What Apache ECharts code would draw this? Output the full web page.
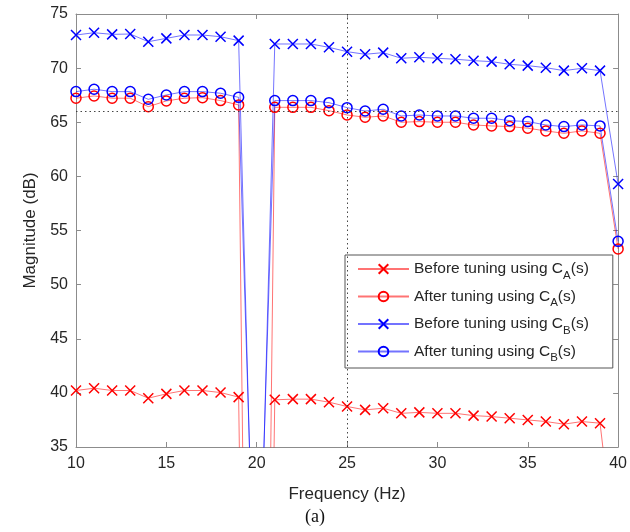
<!DOCTYPE html>
<html>
<head>
<meta charset="utf-8">
<script src="https://cdn.jsdelivr.net/npm/echarts@6/dist/echarts.min.js"></script>
<style>
html,body{margin:0;padding:0;background:#fff;}
#c{width:630px;height:532px;}
</style>
</head>
<body>
<div id="c"></div>
<script>
var frequency = [10,11,12,13,14,15,16,17,18,19,20,21,22,23,24,25,26,27,28,29,30,31,32,33,34,35,36,37,38,39,40];
var beforeA = [40.22,40.43,40.22,40.22,39.51,39.91,40.22,40.22,40.03,39.61,-75,39.36,39.42,39.42,39.14,38.74,38.43,38.58,38.11,38.2,38.11,38.11,37.9,37.81,37.66,37.5,37.35,37.11,37.35,37.2,23];
var afterA = [67.22,67.43,67.22,67.22,66.44,66.97,67.22,67.27,67.0,66.6,-75,66.38,66.38,66.38,66.07,65.67,65.46,65.58,65.0,65.06,65.0,65.0,64.75,64.66,64.6,64.45,64.2,63.98,64.2,63.98,53.3];
var beforeB = [73.06,73.27,73.12,73.15,72.44,72.75,73.06,73.06,72.9,72.54,10,72.23,72.23,72.23,71.92,71.52,71.28,71.43,70.91,71.0,70.91,70.82,70.69,70.6,70.35,70.23,70.04,69.77,69.98,69.77,59.3];
var afterB = [67.83,68.05,67.83,67.83,67.12,67.52,67.83,67.83,67.68,67.3,13.5,67.0,67.0,67.0,66.81,66.35,66.04,66.2,65.58,65.67,65.58,65.58,65.37,65.37,65.15,65.06,64.75,64.6,64.75,64.66,54.0];
var refLevel = 66;
var refFreq = 25;
var xTicks = [10,15,20,25,30,35,40];
var yTicks = [35,40,45,50,55,60,65,70,75];

function pairs(vals){ return frequency.map(function(f,i){ return [f, vals[i]]; }); }

var crossPath = 'path://M0,0L10,10M10,0L0,10';
var RED = '#ff0000', BLUE = '#0000ff';
var axisColor = '#8c8c8c';
var textColor = '#262626';
var fontFam = '"Liberation Sans", Arial, sans-serif';

function mkSeries(name, vals, color, symbol){
  return {
    name: name, type: 'line', data: pairs(vals),
    symbol: symbol, symbolSize: 10, showAllSymbol: true,
    clip: true,
    lineStyle: {color: color, width: 1, opacity: 0.55},
    itemStyle: {color: 'rgba(0,0,0,0)', borderColor: color, borderWidth: 1.5},
    emphasis: {disabled: true},
    animation: false,
    z: 3
  };
}

var series = [
  mkSeries('Before tuning using C{sub|A}(s)', beforeA, RED, crossPath),
  mkSeries('After tuning using C{sub|A}(s)', afterA, RED, 'circle'),
  mkSeries('Before tuning using C{sub|B}(s)', beforeB, BLUE, crossPath),
  mkSeries('After tuning using C{sub|B}(s)', afterB, BLUE, 'circle')
];
series[0].markLine = {
  silent: true, symbol: ['none','none'], animation: false,
  label: {show: false},
  lineStyle: {color: '#333', type: [1.5, 3], width: 1, opacity: 0.9},
  data: [{yAxis: refLevel}, {xAxis: refFreq}]
};

var chart = echarts.init(document.getElementById('c'), null, {renderer: 'canvas'});
chart.setOption({
  animation: false,
  backgroundColor: '#fff',
  grid: {left: 76, right: 8, top: 14, bottom: 85, containLabel: false},
  xAxis: [{
    type: 'value', min: 10, max: 40, interval: 5,
    name: 'Frequency (Hz)', nameLocation: 'middle', nameGap: 39,
    nameTextStyle: {fontFamily: fontFam, fontSize: 17, color: textColor},
    axisLine: {show: true, lineStyle: {color: axisColor, width: 1}},
    axisTick: {show: true, inside: true, length: 5, lineStyle: {color: axisColor}},
    axisLabel: {fontFamily: fontFam, fontSize: 16, color: textColor, margin: 9},
    splitLine: {show: false}
  },{
    type: 'value', min: 10, max: 40, interval: 5, position: 'top',
    axisLine: {show: true, lineStyle: {color: axisColor, width: 1}},
    axisTick: {show: true, inside: true, length: 5, lineStyle: {color: axisColor}},
    axisLabel: {show: false}, splitLine: {show: false}
  }],
  yAxis: [{
    type: 'value', min: 35, max: 75, interval: 5,
    name: 'Magnitude (dB)', nameLocation: 'middle', nameGap: 31,
    nameTextStyle: {fontFamily: fontFam, fontSize: 17, color: textColor},
    axisLine: {show: true, lineStyle: {color: axisColor, width: 1}},
    axisTick: {show: true, inside: true, length: 5, lineStyle: {color: axisColor}},
    axisLabel: {fontFamily: fontFam, fontSize: 16, color: textColor, margin: 8},
    splitLine: {show: false}
  },{
    type: 'value', min: 35, max: 75, interval: 5, position: 'right',
    axisLine: {show: true, lineStyle: {color: axisColor, width: 1}},
    axisTick: {show: true, inside: true, length: 5, lineStyle: {color: axisColor}},
    axisLabel: {show: false}, splitLine: {show: false}
  }],
  legend: {
    show: true, orient: 'vertical', left: 345, top: 255,
    padding: [6, 24, 4, 12],
    itemWidth: 51, itemHeight: 12, itemGap: 7,
    backgroundColor: '#fff',
    borderColor: '#555', borderWidth: 1, borderRadius: 0,
    selectedMode: false,
    textStyle: {
      fontFamily: fontFam, fontSize: 15.5, color: textColor,
      rich: {
        sub: {fontFamily: fontFam, fontSize: 11.5, color: textColor, padding: [13, 0, 0, 0]}
      }
    },
    data: series.map(function(s){ return s.name; })
  },
  graphic: [{
    type: 'text', left: 'center', top: 508,
    style: {text: '(a)', font: '18px "Liberation Serif", "Times New Roman", serif', fill: '#111'}
  }],
  series: series
});
</script>
</body>
</html>
